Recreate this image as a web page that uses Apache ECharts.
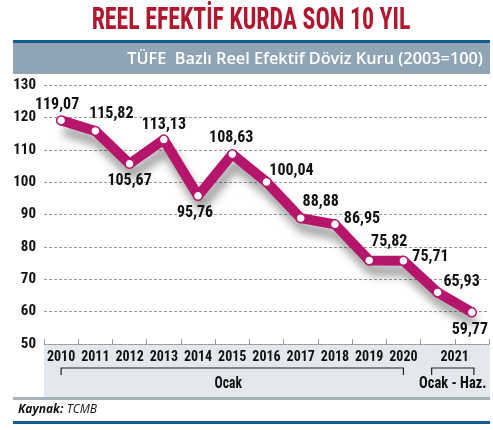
<!DOCTYPE html>
<html><head><meta charset="utf-8">
<script src="https://cdn.jsdelivr.net/npm/echarts@6/dist/echarts.min.js"></script>
<style>html,body{margin:0;padding:0;background:#fff}#c{width:493px;height:430px}</style>
</head><body><div id="c"></div>
<script>
const titleText = 'REEL EFEKTİF KURDA SON 10 YIL';
const subtitleText = 'TÜFE  Bazlı Reel Efektif Döviz Kuru (2003=100)';
const categories = ['2010','2011','2012','2013','2014','2015','2016','2017','2018','2019','2020','2021 Ocak','2021 Haz.'];
const yearLabels = ['2010','2011','2012','2013','2014','2015','2016','2017','2018','2019','2020','2021',''];
const values = [119.07,115.82,105.67,113.13,95.76,108.63,100.04,88.88,86.95,75.82,75.71,65.93,59.77];
const yMin = 50, yMax = 130, yStep = 10;
const groupLabels = ['Ocak','Ocak - Haz.'];
const sourceLabel = 'Kaynak:';
const sourceName = 'TCMB';
const labelOffsets = [[-4,-15],[16,-17],[0,17],[0,-15],[-3,17],[-1,-16],[25,-11],[20,-16],[27,-5],[20,-18],[27,-4],[24,-10],[-2,18]];

const NARROW = '"Roboto Condensed",sans-serif';
const MAG = '#b5166b';
const chart = echarts.init(document.getElementById('c'));
chart.setOption({
  backgroundColor:'#fff',
  animation:false,
  grid:{left:44,right:4,top:85,bottom:86},
  xAxis:{type:'category',data:categories,boundaryGap:true,
    axisLine:{show:true,lineStyle:{color:'#9a9a9a',type:'dotted',width:1}},
    axisTick:{show:true,inside:true,length:5,lineStyle:{color:'#9a9a9a'}},
    axisLabel:{interval:0,margin:6,fontSize:14,fontFamily:NARROW,color:'#111',fontWeight:'bold',
      formatter:(v,i)=> i===11 ? '{s|'+yearLabels[i]+'}' : yearLabels[i],
      rich:{s:{padding:[0,0,0,34],fontSize:14,fontFamily:NARROW,color:'#111',fontWeight:'bold'}}},
    z:3
  },
  yAxis:{type:'value',min:yMin,max:yMax,interval:yStep,
    axisLine:{show:false},axisTick:{show:false},
    axisLabel:{margin:8,fontSize:15,fontFamily:NARROW,color:'#111',fontWeight:'bold'},
    splitLine:{show:true,lineStyle:{color:'#9a9a9a',type:[3,2],width:1}}
  },
  series:[{type:'line',data:values.map((v,i)=>({value:v,label:{offset:labelOffsets[i]}})),
    symbol:'circle',symbolSize:9,
    itemStyle:{color:'#fff',borderColor:MAG,borderWidth:1.5},
    lineStyle:{color:MAG,width:10,shadowColor:'rgba(0,0,0,0.4)',shadowBlur:10,shadowOffsetX:3,shadowOffsetY:10},
    label:{show:true,position:'inside',align:'center',verticalAlign:'middle',fontSize:16,fontFamily:NARROW,color:'#111',fontWeight:'bold',
      formatter:p=>p.value.toFixed(2).replace('.',',')},
    z:5
  }]
});
const px = i => chart.convertToPixel({xAxisIndex:0},categories[i]);
const x0 = px(0), x10 = px(10), x11 = px(11), x12 = px(12);
const by = 368;
chart.setOption({graphic:[
  {type:'text',x:251,y:21,scaleX:0.77,style:{text:titleText,fill:'#b0182f',font:'bold 31px '+NARROW,align:'center',verticalAlign:'middle'}},
  {type:'rect',shape:{x:13,y:40,width:477,height:3},style:{fill:'#125e91'}},
  {type:'rect',shape:{x:13,y:43,width:477,height:31},style:{fill:'#8fa5b5'}},
  {type:'text',x:483,y:59,style:{text:subtitleText,fill:'#fff',font:'600 16.3px "Open Sans",sans-serif',align:'right',verticalAlign:'middle'}},
  {type:'rect',z:-10,shape:{x:44,y:344,width:446,height:53},style:{fill:'#e2e8ee'}},
  {type:'rect',z:-10,shape:{x:13,y:397,width:477,height:3},style:{fill:'#a7b1b9'}},
  {type:'polyline',shape:{points:[[x0,375],[x0,by],[x10,by],[x10,375]]},style:{stroke:'#222',lineWidth:1.2,fill:null}},
  {type:'polyline',shape:{points:[[x11-6,375],[x11-6,by],[x12+2,by],[x12+2,375]]},style:{stroke:'#222',lineWidth:1.2,fill:null}},
  {type:'text',x:(x0+x10)/2-4,y:384,scaleX:0.8,style:{text:groupLabels[0],fill:'#111',font:'bold 17px '+NARROW,align:'center',verticalAlign:'middle'}},
  {type:'text',x:(x11+x12)/2-2,y:384,scaleX:0.85,style:{text:groupLabels[1],fill:'#111',font:'bold 17px '+NARROW,align:'center',verticalAlign:'middle'}},
  {type:'text',x:18,y:410,style:{text:'{b|'+sourceLabel+'} {n|'+sourceName+'}',verticalAlign:'middle',
    rich:{b:{font:'italic bold 12px "Open Sans",sans-serif',fill:'#111'},n:{font:'italic 12px "Open Sans",sans-serif',fill:'#111'}}}},
  {type:'rect',shape:{x:13,y:421,width:477,height:3},style:{fill:'#125e91'}}
]});
</script></body></html>
